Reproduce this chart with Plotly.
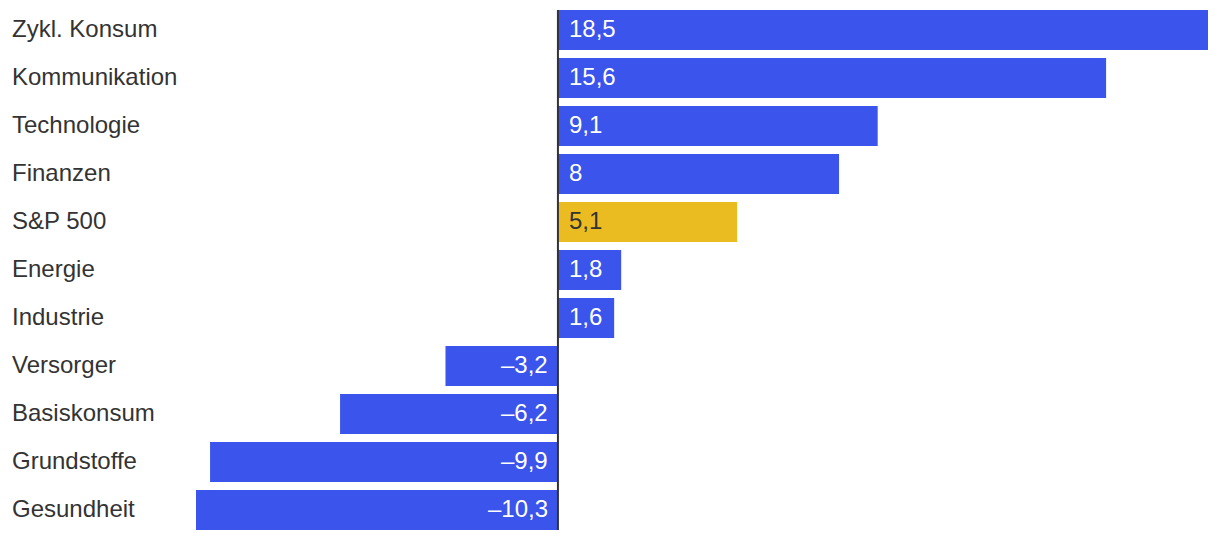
import plotly.graph_objects as go

categories = ["Zykl. Konsum", "Kommunikation", "Technologie", "Finanzen", "S&P 500",
              "Energie", "Industrie", "Versorger", "Basiskonsum", "Grundstoffe", "Gesundheit"]
values = [18.5, 15.6, 9.1, 8.0, 5.1, 1.8, 1.6, -3.2, -6.2, -9.9, -10.3]
highlight = "S&P 500"

BLUE = "#3a54ec"
YELLOW = "#ebbc22"
DARK = "#333333"
FONT = "Liberation Sans, Arial, Helvetica, sans-serif"
FS = 24


def fmt(v):
    s = f"{abs(v):.1f}".rstrip("0").rstrip(".").replace(".", ",")
    return ("\u2013" if v < 0 else "") + s


colors = [YELLOW if c == highlight else BLUE for c in categories]

fig = go.Figure(go.Bar(
    x=values, y=categories, orientation="h",
    marker=dict(color=colors, line=dict(width=0)),
    hoverinfo="skip",
))

annotations = []
for c, v, col in zip(categories, values, colors):
    annotations.append(dict(
        x=0, y=c, xref="x", yref="y", text=fmt(v), showarrow=False,
        xanchor="left" if v >= 0 else "right", xshift=9 if v >= 0 else -8, yshift=2,
        font=dict(family=FONT, size=FS, color=DARK if col == YELLOW else "white"),
    ))
    annotations.append(dict(
        x=0, y=c, xref="paper", yref="y", text=c, showarrow=False,
        xanchor="left", xshift=-186, yshift=2,
        font=dict(family=FONT, size=FS, color=DARK),
    ))

fig.add_shape(type="line", xref="x", yref="y", x0=0, x1=0,
              y0=-0.5 + 4 / 48, y1=len(categories) - 0.5 - 4 / 48,
              line=dict(color=DARK, width=2), layer="above")

fig.update_layout(
    width=1220, height=540,
    margin=dict(l=196, r=12, t=6, b=6),
    paper_bgcolor="white", plot_bgcolor="white",
    bargap=8 / 48,
    showlegend=False,
    annotations=annotations,
    xaxis=dict(range=[min(values), max(values)], visible=False, showgrid=False, zeroline=False),
    yaxis=dict(autorange="reversed", visible=False, showgrid=False),
)

fig.write_html("out.html", config={"displayModeBar": False},
               post_script="document.body.style.margin='0';document.body.style.overflow='hidden';")
